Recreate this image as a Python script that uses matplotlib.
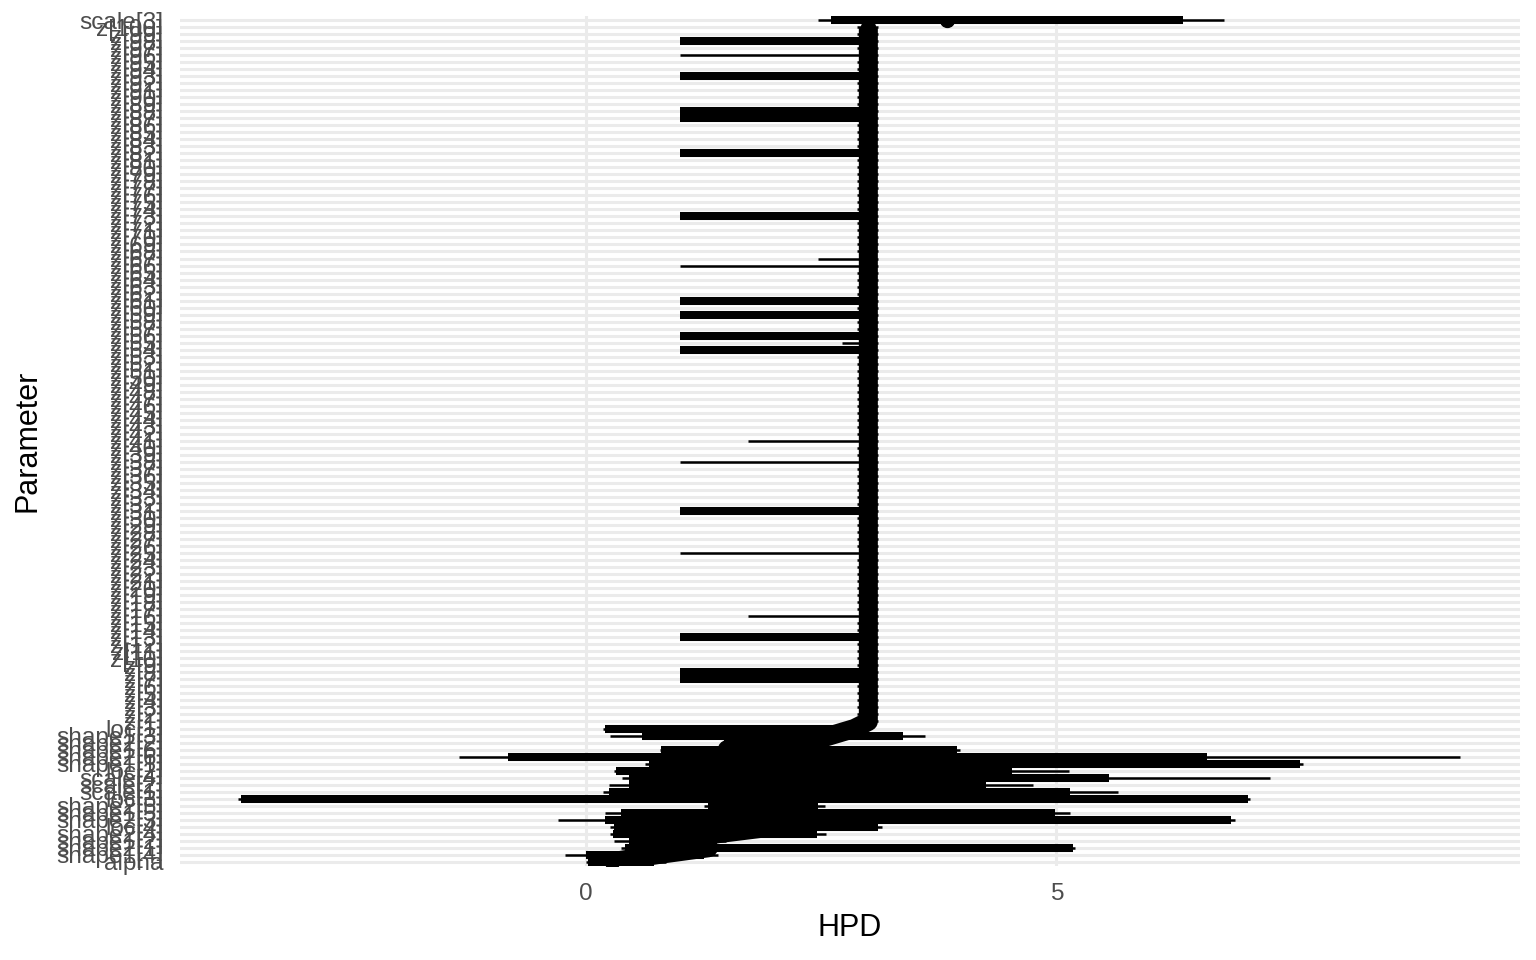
import matplotlib
matplotlib.use("Agg")
import matplotlib.pyplot as plt

plt.rcParams['font.family'] = ['Liberation Sans', 'DejaVu Sans']

# bottom block of parameters, listed from the bottom row upwards
bottom_labels = ["alpha", "shape1[4]", "shape2[1]", "shape1[2]", "shape2[4]",
                 "loc[4]", "shape2[3]", "shape1[5]", "shape2[5]", "loc[3]",
                 "scale[1]", "scale[2]", "scale[4]", "loc[2]", "shape1[1]",
                 "shape2[6]", "shape1[6]", "shape2[2]", "shape1[3]", "loc[1]"]
bottom_mean = [0.27, 0.75, 1.3, 1.0, 1.4, 2.0, 1.7, 1.5, 1.9, 1.5,
               1.6, 1.8, 1.5, 1.9, 1.6, 2.2, 1.5, 2.35, 2.6, 2.85]
bottom_in_lo = [0.02, 0.0, 0.41, 0.45, 0.28, 0.3, 0.20, 0.37, 1.3, -3.67,
                0.24, 0.46, 0.46, 0.32, 0.67, -0.83, 0.80, 1.46, 0.59, 0.2]
bottom_in_hi = [0.72, 1.25, 5.18, 1.3, 2.45, 3.1, 6.86, 4.98, 2.47, 7.04,
                5.14, 4.25, 5.56, 4.53, 7.59, 6.6, 3.94, 2.5, 3.37, 2.95]
bottom_out_lo = [0.0, -0.23, 0.37, 0.3, 0.25, 0.25, -0.30, 0.2, 1.25, -3.7,
                 0.18, 0.24, 0.38, 0.29, 0.62, -1.35, 0.78, 1.44, 0.25, 0.18]
bottom_out_hi = [0.85, 1.4, 5.2, 1.49, 2.55, 3.15, 6.9, 5.14, 2.54, 7.06,
                 5.65, 4.75, 7.27, 5.13, 7.62, 9.29, 3.97, 2.55, 3.6, 3.0]

# z[1] .. z[100]
z_labels = ["z[%d]" % k for k in range(1, 101)]
z_mean = [3.0, 3.0, 3.0, 3.0, 3.0, 3.0, 3.0, 3.0, 3.0, 3.0,
          3.0, 3.0, 3.0, 3.0, 3.0, 3.0, 3.0, 3.0, 3.0, 3.0,
          3.0, 3.0, 3.0, 3.0, 3.0, 3.0, 3.0, 3.0, 3.0, 3.0,
          3.0, 3.0, 3.0, 3.0, 3.0, 3.0, 3.0, 3.0, 3.0, 3.0,
          3.0, 3.0, 3.0, 3.0, 3.0, 3.0, 3.0, 3.0, 3.0, 3.0,
          3.0, 3.0, 3.0, 3.0, 3.0, 3.0, 3.0, 3.0, 3.0, 3.0,
          3.0, 3.0, 3.0, 3.0, 3.0, 3.0, 3.0, 3.0, 3.0, 3.0,
          3.0, 3.0, 3.0, 3.0, 3.0, 3.0, 3.0, 3.0, 3.0, 3.0,
          3.0, 3.0, 3.0, 3.0, 3.0, 3.0, 3.0, 3.0, 3.0, 3.0,
          3.0, 3.0, 3.0, 3.0, 3.0, 3.0, 3.0, 3.0, 3.0, 3.0]
z_in_lo = [2.95, 2.95, 2.95, 2.95, 2.95, 2.95, 1.0, 1.0, 2.95, 2.95,
           2.95, 2.95, 1.0, 2.95, 2.95, 2.95, 2.95, 2.95, 2.95, 2.95,
           2.95, 2.95, 2.95, 2.95, 2.95, 2.95, 2.95, 2.95, 2.95, 2.95,
           1.0, 2.95, 2.95, 2.95, 2.95, 2.95, 2.95, 2.95, 2.95, 2.95,
           2.95, 2.95, 2.95, 2.95, 2.95, 2.95, 2.95, 2.95, 2.95, 2.95,
           2.95, 2.95, 2.95, 1.0, 2.95, 1.0, 2.95, 2.95, 1.0, 2.95,
           1.0, 2.95, 2.95, 2.95, 2.95, 2.95, 2.95, 2.95, 2.95, 2.95,
           2.95, 2.95, 1.0, 2.95, 2.95, 2.95, 2.95, 2.95, 2.95, 2.95,
           2.95, 1.0, 2.95, 2.95, 2.95, 2.95, 1.0, 1.0, 2.95, 2.95,
           2.95, 2.95, 1.0, 2.95, 2.95, 2.95, 2.95, 1.0, 2.95, 2.95]
z_in_hi = [3.05, 3.05, 3.05, 3.05, 3.05, 3.05, 3.05, 3.05, 3.05, 3.05,
           3.05, 3.05, 3.05, 3.05, 3.05, 3.05, 3.05, 3.05, 3.05, 3.05,
           3.05, 3.05, 3.05, 3.05, 3.05, 3.05, 3.05, 3.05, 3.05, 3.05,
           3.05, 3.05, 3.05, 3.05, 3.05, 3.05, 3.05, 3.05, 3.05, 3.05,
           3.05, 3.05, 3.05, 3.05, 3.05, 3.05, 3.05, 3.05, 3.05, 3.05,
           3.05, 3.05, 3.05, 3.05, 3.05, 3.05, 3.05, 3.05, 3.05, 3.05,
           3.05, 3.05, 3.05, 3.05, 3.05, 3.05, 3.05, 3.05, 3.05, 3.05,
           3.05, 3.05, 3.05, 3.05, 3.05, 3.05, 3.05, 3.05, 3.05, 3.05,
           3.05, 3.05, 3.05, 3.05, 3.05, 3.05, 3.05, 3.05, 3.05, 3.05,
           3.05, 3.05, 3.05, 3.05, 3.05, 3.05, 3.05, 3.05, 3.05, 3.05]
z_out_lo = [2.88, 2.88, 2.88, 2.88, 2.88, 2.88, 1.0, 1.0, 2.88, 2.88,
            2.88, 2.88, 1.0, 2.88, 2.88, 1.72, 2.88, 2.88, 2.88, 2.88,
            2.88, 2.88, 2.88, 2.88, 1.0, 2.88, 2.88, 2.88, 2.88, 2.88,
            1.0, 2.88, 2.88, 2.88, 2.88, 2.88, 2.88, 1.0, 2.88, 2.88,
            1.72, 2.88, 2.88, 2.88, 2.88, 2.88, 2.88, 2.88, 2.88, 2.88,
            2.88, 2.88, 2.88, 1.0, 2.72, 1.0, 2.88, 2.88, 1.0, 2.88,
            1.0, 2.88, 2.88, 2.88, 2.88, 1.0, 2.46, 2.88, 2.88, 2.88,
            2.88, 2.88, 1.0, 2.88, 2.88, 2.88, 2.88, 2.88, 2.88, 2.88,
            2.88, 1.0, 2.88, 2.88, 2.88, 2.88, 1.0, 1.0, 2.88, 2.88,
            2.88, 2.88, 1.0, 2.88, 2.88, 1.0, 2.88, 1.0, 2.88, 2.88]
z_out_hi = [3.1, 3.1, 3.1, 3.1, 3.1, 3.1, 3.1, 3.1, 3.1, 3.1,
            3.1, 3.1, 3.1, 3.1, 3.1, 3.1, 3.1, 3.1, 3.1, 3.1,
            3.1, 3.1, 3.1, 3.1, 3.1, 3.1, 3.1, 3.1, 3.1, 3.1,
            3.1, 3.1, 3.1, 3.1, 3.1, 3.1, 3.1, 3.1, 3.1, 3.1,
            3.1, 3.1, 3.1, 3.1, 3.1, 3.1, 3.1, 3.1, 3.1, 3.1,
            3.1, 3.1, 3.1, 3.1, 3.1, 3.1, 3.1, 3.1, 3.1, 3.1,
            3.1, 3.1, 3.1, 3.1, 3.1, 3.1, 3.1, 3.1, 3.1, 3.1,
            3.1, 3.1, 3.1, 3.1, 3.1, 3.1, 3.1, 3.1, 3.1, 3.1,
            3.1, 3.1, 3.1, 3.1, 3.1, 3.1, 3.1, 3.1, 3.1, 3.1,
            3.1, 3.1, 3.1, 3.1, 3.1, 3.1, 3.1, 3.1, 3.1, 3.1]

# the odd one on top
top_label = "scale[3]"
top_mean = 3.84
top_in = (2.60, 6.35)
top_out = (2.46, 6.78)

labels = bottom_labels + z_labels + [top_label]
mean = bottom_mean + z_mean + [top_mean]
in_lo = bottom_in_lo + z_in_lo + [top_in[0]]
in_hi = bottom_in_hi + z_in_hi + [top_in[1]]
out_lo = bottom_out_lo + z_out_lo + [top_out[0]]
out_hi = bottom_out_hi + z_out_hi + [top_out[1]]
rows = list(range(len(labels)))
n_path = len(bottom_labels) + len(z_labels)

fig = plt.figure(figsize=(15.36, 9.6), dpi=100)
ax = fig.add_axes([180 / 1536, 1 - 866 / 960, 1340 / 1536, 850.2 / 960])

ax.hlines(rows, out_lo, out_hi, colors="black", linewidth=1.8, capstyle="butt", zorder=3)
ax.hlines(rows, in_lo, in_hi, colors="black", linewidth=5.8, capstyle="butt", zorder=4)
ax.plot(mean[:n_path], rows[:n_path], color="black", linewidth=13.7,
        solid_joinstyle="round", solid_capstyle="butt", zorder=5)
ax.plot(mean, rows, "o", color="black", markersize=10, zorder=6)

ax.set_xlim(-4.32, 9.93)
ax.set_ylim(-0.6, len(labels) - 0.4)
ax.set_xticks([0, 5])
ax.set_xticklabels(["0", "5"])
ax.set_yticks(rows)
ax.set_yticklabels(labels)
ax.grid(True, color="#EBEBEB", linewidth=2.2, zorder=0)
ax.set_axisbelow(True)
for s in ax.spines.values():
    s.set_visible(False)
ax.tick_params(length=0, labelsize=17.6, labelcolor="#4D4D4D")
ax.tick_params(axis="x", pad=12)
ax.tick_params(axis="y", pad=12)
ax.set_xlabel("HPD", fontsize=22, labelpad=6)
ax.set_ylabel("Parameter", fontsize=22, labelpad=10)

fig.savefig("out.png", dpi=100)
